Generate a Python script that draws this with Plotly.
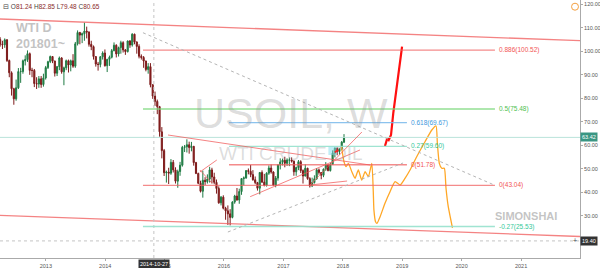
import plotly.graph_objects as go
import pandas as pd

# ---------------- data: biweekly USOIL candles ----------------
first_open = 105.0
closes = [103.0,102.8,104.9,96.1,90.9,84.1,79.8,84.5,91.4,91.4,96.0,96.5,99.0,91.9,91.9,86.3,86.1,88.3,85.9,88.7,93.1,
          95.6,97.8,95.9,90.7,93.5,97.2,91.3,93.0,96.0,94.2,96.0,93.7,103.2,108.0,106.9,107.5,108.6,108.2,103.0,102.0,97.8,94.6,94.4,97.7,99.3,93.9,
          96.6,97.5,100.3,102.6,98.9,101.6,103.7,100.6,99.9,104.4,102.7,107.3,104.0,102.1,97.9,97.4,95.9,92.3,93.5,85.8,81.0,78.7,76.5,65.8,57.8,48.4,
          48.7,48.2,52.8,49.6,44.8,48.9,51.6,59.2,59.4,60.3,59.1,59.6,52.7,48.1,43.9,40.5,45.2,44.6,45.7,49.6,46.6,44.3,41.7,35.6,38.0,33.3,
          32.2,30.9,29.4,35.9,38.5,36.8,40.4,45.9,46.2,49.3,49.0,47.6,45.4,44.2,41.8,48.5,44.4,43.0,48.2,50.4,48.7,43.1,46.1,51.7,53.0,53.7,
          52.4,53.8,53.8,53.3,48.8,50.6,53.1,49.3,47.0,50.3,45.9,42.8,44.2,45.8,49.6,48.5,47.3,49.9,51.7,49.3,51.9,56.7,58.9,57.4,58.4,61.4,
          63.4]
highs = [106.0,104.5,105.5,105.2,96.5,91.5,84.5,88.0,92.9,93.0,96.5,98.3,100.4,99.5,93.0,92.5,89.0,89.5,89.5,90.5,93.8,
         96.0,98.2,98.0,96.0,93.8,97.8,97.5,93.5,96.5,96.5,96.5,98.8,104.0,108.9,108.3,108.0,112.2,110.5,108.5,104.5,102.5,97.9,95.5,98.0,100.0,100.8,
         96.8,98.2,101.0,103.8,103.0,102.0,104.5,104.3,101.0,104.6,104.8,107.7,107.5,104.2,103.0,98.7,98.0,96.0,95.0,95.0,86.0,82.9,79.5,76.8,67.8,58.5,
         49.3,50.5,54.2,53.8,50.7,49.7,53.0,59.8,60.2,62.6,61.6,61.5,59.8,53.0,48.4,45.0,49.3,46.5,47.7,50.9,50.5,48.4,45.5,42.6,38.5,38.8,
         33.9,34.5,32.9,36.3,39.0,41.9,41.6,46.0,46.8,49.5,50.2,51.7,49.5,46.8,44.5,48.7,49.4,47.9,48.6,51.5,51.9,49.0,47.0,52.0,54.5,54.4,
         55.2,54.5,54.9,54.9,53.6,51.0,53.8,53.7,49.8,52.0,50.5,46.5,46.3,47.3,50.4,50.2,48.7,50.2,52.9,52.1,52.6,57.9,59.1,59.0,58.8,61.9,
         64.8]
lows = [102.0,101.0,101.5,95.5,89.0,81.2,77.3,79.0,84.0,86.6,90.5,94.0,95.5,90.0,89.0,84.8,84.0,84.5,84.5,85.0,88.0,
        92.5,95.0,95.0,89.3,89.5,92.0,90.5,85.6,92.0,91.0,91.5,93.0,93.0,102.5,103.0,103.5,104.5,105.5,102.0,100.5,96.5,93.5,91.8,93.2,96.5,93.5,
        91.2,93.8,97.0,100.0,97.4,97.8,99.0,99.5,98.5,99.5,101.5,102.0,103.0,99.0,97.0,96.5,93.0,91.5,90.5,84.7,79.8,76.8,73.3,63.7,54.5,47.0,
        44.2,43.6,47.5,48.5,43.8,42.0,47.1,51.0,57.2,57.0,56.5,57.5,51.4,47.8,43.5,40.0,37.8,43.2,43.8,44.2,43.8,43.5,39.5,35.2,34.5,32.8,
        28.4,26.2,26.0,29.0,35.2,36.5,35.2,39.0,43.0,45.8,47.7,46.5,45.0,43.5,40.8,39.2,44.0,42.6,42.5,47.5,48.0,42.8,42.2,45.0,49.8,51.5,
        50.7,51.3,51.2,52.7,47.1,47.1,49.5,48.3,43.8,46.8,45.4,42.1,42.3,43.8,45.4,47.6,45.6,46.5,49.2,49.0,48.9,51.7,55.0,55.8,56.1,57.9,
        61.0]
opens = [first_open] + closes[:-1]
dates = pd.date_range('2012-03-26', periods=len(closes), freq='14D')

last_price = 63.42
cross_date = '2014-10-27'
cross_price = 19.40

# projections
orange_dates = ['2017-12-23','2018-01-08','2018-01-21','2018-02-04','2018-02-25','2018-03-17','2018-04-06','2018-04-27',
                '2018-05-18','2018-06-07','2018-06-28','2018-07-07','2018-07-11','2018-07-21','2018-07-30','2018-08-18',
                '2018-09-17','2018-10-18','2018-11-18','2018-12-19','2019-01-18','2019-02-18','2019-03-31','2019-05-21',
                '2019-07-02','2019-07-28','2019-08-05','2019-08-17','2019-09-01','2019-09-17','2019-09-27','2019-10-11','2019-11-06']
orange_prices = [59.75,53.08,50.96,52.4,48.83,46.02,49.55,45.3,48.83,46.7,52.4,40.3,32.5,27.57,26.9,29.7,
                 35.4,40.32,44.58,43.17,46.0,49.55,55.2,61.58,66.56,68.26,60.9,52.4,50.27,50.27,41.9,33.95,24.9]
red_dates = ['2018-09-17','2018-10-01','2018-10-10','2018-10-24','2018-11-07','2018-11-28','2018-12-19','2018-12-31']
red_prices = [59.76,63.0,62.3,64.4,73.7,85.0,96.3,102.0]

# fibonacci levels
fib_a_start, fib_a_end = '2014-08-21', '2020-07-24'
fib_a_levels = [100.52, 75.48, 43.04, 25.53]
fib_a_names = ['0.886(100.52)', '0.5(75.48)', '0(43.04)', '-0.27(25.53)']
fib_b_start, fib_b_end = '2016-02-01', '2019-01-30'
fib_b_levels = [69.67, 59.60, 51.78]
fib_b_names = ['0.618(69.67)', '0.27(59.60)', '0(51.78)']

# channel lines
channel_x = ['2012-03-25', '2021-12-29']
channel_top = [113.75, 104.53]
channel_bottom = [30.29, 21.28]

# trend lines (red)
trend_x0 = ['2015-01-22','2016-06-10','2017-06-13','2017-06-13','2015-08-06','2015-08-06']
trend_y0 = [64.43, 38.2, 43.17, 43.17, 48.7, 49.55]
trend_x1 = ['2018-06-17','2018-04-16','2018-04-28','2018-01-27','2015-11-18','2015-10-19']
trend_y1 = [51.68, 58.06, 65.71, 44.87, 53.8, 44.0]

# dotted grey lines
dot_x0 = ['2014-08-21', '2016-01-25']
dot_y0 = [107.92, 23.19]
dot_x1 = ['2020-07-24', '2019-01-06']
dot_y1 = [43.04, 52.53]

year_ticks = ['2013','2014','2015','2016','2017','2018','2019','2020','2021','2022']
price_ticks = [30, 40, 50, 60, 70, 80, 90, 100, 110, 120]

# ---------------- figure ----------------
fig = go.Figure()
fig.add_trace(go.Candlestick(
    x=dates, open=opens, high=highs, low=lows, close=closes,
    increasing=dict(line=dict(color='#1f7a43', width=1), fillcolor='#2a8c4f'),
    decreasing=dict(line=dict(color='#7d1a1a', width=1), fillcolor='#8e2020'),
    whiskerwidth=0, hoverinfo='skip'))
fig.add_trace(go.Scatter(x=orange_dates, y=orange_prices, mode='lines',
                         line=dict(color='#ffa726', width=1.3, shape='spline', smoothing=0.5), hoverinfo='skip'))
fig.add_trace(go.Scatter(x=red_dates, y=red_prices, mode='lines',
                         line=dict(color='#ff1010', width=2.2), hoverinfo='skip'))

shapes = []
red_soft = 'rgba(240,90,90,0.75)'
shapes.append(dict(type='line', x0=channel_x[0], x1=channel_x[1], y0=channel_top[0], y1=channel_top[1],
                   line=dict(color=red_soft, width=1.3)))
shapes.append(dict(type='line', x0=channel_x[0], x1=channel_x[1], y0=channel_bottom[0], y1=channel_bottom[1],
                   line=dict(color=red_soft, width=1.3)))
shapes.append(dict(type='line', xref='paper', x0=0, x1=1, y0=last_price, y1=last_price,
                   line=dict(color='#b9e3da', width=1)))
shapes.append(dict(type='line', x0=cross_date, x1=cross_date, yref='paper', y0=0, y1=1,
                   line=dict(color='#c4c4c4', width=1, dash='dot')))
shapes.append(dict(type='line', xref='paper', x0=0, x1=1, y0=cross_price, y1=cross_price,
                   line=dict(color='#c4c4c4', width=1, dash='dot')))
fa_line = ['rgba(240,100,100,0.75)', 'rgba(120,215,120,0.8)', 'rgba(240,100,100,0.75)', 'rgba(150,225,205,0.9)']
fa_text = ['#f25555', '#4fbf4f', '#f25555', '#33c99a']
fb_line = ['rgba(120,185,235,0.85)', 'rgba(150,225,205,0.9)', 'rgba(240,100,100,0.75)']
fb_text = ['#3d97dd', '#33c99a', '#f25555']
annotations = []
for lv, nm, lc, tc in zip(fib_a_levels, fib_a_names, fa_line, fa_text):
    shapes.append(dict(type='line', x0=fib_a_start, x1=fib_a_end, y0=lv, y1=lv, line=dict(color=lc, width=1.3)))
    annotations.append(dict(x=fib_a_end, y=lv, text=nm, showarrow=False, xanchor='left', xshift=2,
                            font=dict(size=6.5, color=tc)))
for lv, nm, lc, tc in zip(fib_b_levels, fib_b_names, fb_line, fb_text):
    shapes.append(dict(type='line', x0=fib_b_start, x1=fib_b_end, y0=lv, y1=lv, line=dict(color=lc, width=1.3)))
    annotations.append(dict(x=fib_b_end, y=lv, text=nm, showarrow=False, xanchor='left', xshift=2,
                            font=dict(size=6.5, color=tc)))
for a, b, c, d in zip(trend_x0, trend_y0, trend_x1, trend_y1):
    shapes.append(dict(type='line', x0=a, y0=b, x1=c, y1=d, line=dict(color=red_soft, width=1)))
for a, b, c, d in zip(dot_x0, dot_y0, dot_x1, dot_y1):
    shapes.append(dict(type='line', x0=a, y0=b, x1=c, y1=d, line=dict(color='#b5b5b5', width=1, dash='dot')))
shapes.append(dict(type='rect', x0='2017-10-04', x1='2017-11-24', y0=55.93, y1=59.46,
                   fillcolor='rgba(130,220,235,0.5)', line=dict(width=0)))
shapes.append(dict(type='line', x0='2017-11-13', y0=57.1, x1='2017-12-04', y1=58.05,
                   line=dict(color='#ff2020', width=2)))
shapes.append(dict(type='circle', xref='paper', yref='paper', x0=0.9854, x1=0.9974, y0=0.9604, y1=0.9876,
                   line=dict(color='#f5a040', width=1)))

annotations += [
    dict(xref='paper', yref='paper', x=0.501, y=0.562, xanchor='center', yanchor='middle', text='USOIL, W', showarrow=False,
         font=dict(size=43, color='rgba(150,150,150,0.33)', family='Liberation Sans')),
    dict(xref='paper', yref='paper', x=0.502, y=0.405, xanchor='center', yanchor='middle', text='WTI CRUDE OIL', showarrow=False,
         font=dict(size=19, color='rgba(150,150,150,0.33)', family='Liberation Sans')),
    dict(xref='paper', yref='paper', x=0.024, y=0.925, xanchor='left', yanchor='top', align='left',
         text='<b>WTI D<br>201801~</b>', showarrow=False,
         font=dict(size=12.5, color='rgba(175,175,175,0.75)', family='Liberation Sans')),
    dict(xref='paper', yref='paper', x=0.907, y=0.162, xanchor='center', yanchor='middle', text='<b>SIMONSHAI</b>', showarrow=False,
         font=dict(size=11, color='rgba(170,170,170,0.7)', family='Liberation Sans')),
    dict(xref='paper', yref='paper', x=0.002, y=0.975, xanchor='left', yanchor='middle', showarrow=False,
         text='⊟ O<span style="color:#8b2a2a">81.24</span> H<span style="color:#8b2a2a">82.85</span> '
              'L<span style="color:#8b2a2a">79.48</span> C<span style="color:#8b2a2a">80.65</span>',
         font=dict(size=6.5, color='#444', family='Liberation Sans')),
    dict(xref='paper', x=1.0, y=last_price, xanchor='left', text='63.42', showarrow=False,
         bgcolor='#3a9683', borderpad=1, font=dict(size=5.5, color='white')),
    dict(xref='paper', x=1.0, y=cross_price, xanchor='left', text='19.40', showarrow=False,
         bgcolor='#333333', borderpad=1, font=dict(size=5.5, color='white')),
    dict(xref='paper', x=0.999, y=cross_price, xanchor='right', text='+', showarrow=False,
         font=dict(size=7, color='#444')),
    dict(x=cross_date, yref='paper', y=0, yanchor='top', yshift=-1, text='2014-10-27', showarrow=False,
         bgcolor='#333333', borderpad=1, font=dict(size=5.5, color='white')),
]

fig.update_layout(
    width=600, height=268, margin=dict(l=0, r=20, t=0, b=10),
    paper_bgcolor='white', plot_bgcolor='white', showlegend=False,
    font=dict(family='Liberation Sans', size=6, color='#555'),
    shapes=shapes, annotations=annotations,
    xaxis=dict(type='date', range=['2012-03-25', '2021-12-29'], rangeslider=dict(visible=False),
               tickvals=[y + '-01-01' for y in year_ticks], ticktext=year_ticks,
               showgrid=False, zeroline=False, showline=True, linecolor='#aaa', ticks='outside',
               ticklen=2, tickcolor='#aaa', tickfont=dict(size=5.5, color='#555'), automargin=False),
    yaxis=dict(side='right', range=[12.14, 121.83], tickvals=price_ticks,
               ticktext=[f'{v:.2f}' for v in price_ticks], showgrid=False, zeroline=False,
               showline=True, linecolor='#aaa', ticks='outside', ticklen=2, tickcolor='#aaa',
               tickfont=dict(size=5.5, color='#555'), automargin=False),
)
fig.write_html('out.html')
